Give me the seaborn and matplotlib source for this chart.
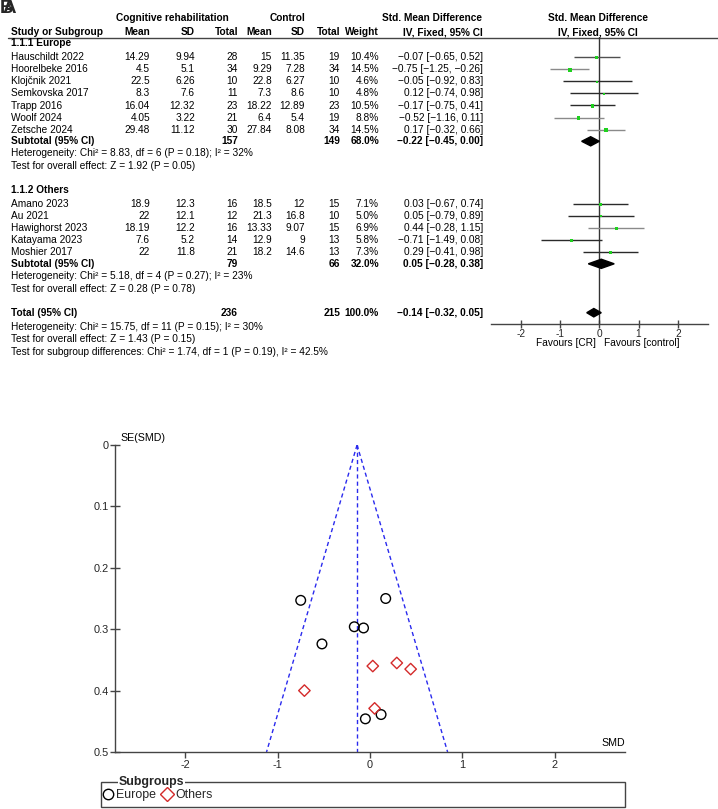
import matplotlib
matplotlib.use("Agg")
import matplotlib.pyplot as plt
from matplotlib.lines import Line2D
from matplotlib.patches import Rectangle
import numpy as np
import pandas as pd
import seaborn as sns

# ---------------------------------------------------------------------------
# DADOS
# ---------------------------------------------------------------------------
eu_study   = ["Hauschildt 2022", "Hoorelbeke 2016", "Klojčnik 2021", "Semkovska 2017",
              "Trapp 2016", "Woolf 2024", "Zetsche 2024"]
eu_cr_mean = [14.29, 4.5, 22.5, 8.3, 16.04, 4.05, 29.48]
eu_cr_sd   = [9.94, 5.1, 6.26, 7.6, 12.32, 3.22, 11.12]
eu_cr_n    = [28, 34, 10, 11, 23, 21, 30]
eu_ct_mean = [15, 9.29, 22.8, 7.3, 18.22, 6.4, 27.84]
eu_ct_sd   = [11.35, 7.28, 6.27, 8.6, 12.89, 5.4, 8.08]
eu_ct_n    = [19, 34, 10, 10, 23, 19, 34]
eu_weight  = [10.4, 14.5, 4.6, 4.8, 10.5, 8.8, 14.5]
eu_smd     = [-0.07, -0.75, -0.05, 0.12, -0.17, -0.52, 0.17]
eu_lo      = [-0.65, -1.25, -0.92, -0.74, -0.75, -1.16, -0.32]
eu_hi      = [0.52, -0.26, 0.83, 0.98, 0.41, 0.11, 0.66]
eu_se      = [0.298, 0.253, 0.446, 0.439, 0.296, 0.324, 0.250]

ot_study   = ["Amano 2023", "Au 2021", "Hawighorst 2023", "Katayama 2023", "Moshier 2017"]
ot_cr_mean = [18.9, 22, 18.19, 7.6, 22]
ot_cr_sd   = [12.3, 12.1, 12.2, 5.2, 11.8]
ot_cr_n    = [16, 12, 16, 14, 21]
ot_ct_mean = [18.5, 21.3, 13.33, 12.9, 18.2]
ot_ct_sd   = [12, 16.8, 9.07, 9, 14.6]
ot_ct_n    = [15, 10, 15, 13, 13]
ot_weight  = [7.1, 5.0, 6.9, 5.8, 7.3]
ot_smd     = [0.03, 0.05, 0.44, -0.71, 0.29]
ot_lo      = [-0.67, -0.79, -0.28, -1.49, -0.41]
ot_hi      = [0.74, 0.89, 1.15, 0.08, 0.98]
ot_se      = [0.360, 0.429, 0.365, 0.400, 0.355]

sub_names  = ["1.1.1 Europe", "1.1.2 Others"]
sub_cr_n   = [157, 79]
sub_ct_n   = [149, 66]
sub_weight = [68.0, 32.0]
sub_smd    = [-0.22, 0.05]
sub_lo     = [-0.45, -0.28]
sub_hi     = [0.00, 0.38]
sub_het    = ["Heterogeneity: Chi² = 8.83, df = 6 (P = 0.18); I² = 32%",
              "Heterogeneity: Chi² = 5.18, df = 4 (P = 0.27); I² = 23%"]
sub_test   = ["Test for overall effect: Z = 1.92 (P = 0.05)",
              "Test for overall effect: Z = 0.28 (P = 0.78)"]

tot_cr_n, tot_ct_n, tot_weight = 236, 215, 100.0
tot_smd, tot_lo, tot_hi = -0.14, -0.32, 0.05
tot_notes = ["Heterogeneity: Chi² = 15.75, df = 11 (P = 0.15); I² = 30%",
             "Test for overall effect: Z = 1.43 (P = 0.15)",
             "Test for subgroup differences: Chi² = 1.74, df = 1 (P = 0.19), I² = 42.5%"]

se_max = 0.5
forest_ticks = [-2, -1, 0, 1, 2]
funnel_yticks = [0, 0.1, 0.2, 0.3, 0.4, 0.5]

# ---------------------------------------------------------------------------
# ESTILO
# ---------------------------------------------------------------------------
sns.set_style("ticks")
plt.rcParams["font.family"] = ["Liberation Sans", "DejaVu Sans"]
plt.rcParams["axes.unicode_minus"] = False
FS = 7.3
GREEN = "#1fd01f"
RED = "#d42a2a"
BLUE = "#2a2aee"
AX_C = "#444444"
ci_grey = {"Hauschildt 2022": "#505050", "Hoorelbeke 2016": "#8a8a8a", "Woolf 2024": "#8a8a8a",
           "Zetsche 2024": "#8a8a8a", "Hawighorst 2023": "#8a8a8a"}

W, H = 718, 809
fig = plt.figure(figsize=(W / 100, H / 100), dpi=100)
fig.patch.set_facecolor("white")

# eixo de fundo em pixels, só para textos
ax_t = fig.add_axes([0, 0, 1, 1])
ax_t.set_xlim(0, W)
ax_t.set_ylim(H, 0)
ax_t.axis("off")


def put(x, y, s, ha="left", bold=False, size=FS):
    ax_t.text(x, y, s, ha=ha, va="center", fontsize=size,
              fontweight="bold" if bold else "normal", color="black")


def m2(v):
    return f"{v:.2f}".replace("-", "\u2212")


def ci_txt(e, lo, hi):
    return f"{m2(e)} [{m2(lo)}, {m2(hi)}]"


COL = {"cr_mean": 150, "cr_sd": 195, "cr_n": 238, "ct_mean": 272,
       "ct_sd": 305, "ct_n": 340, "w": 379, "ci": 483}

# painel A / B (sobrepostos como no original)
ax_t.text(-0.5, 8, "B", fontsize=13.5, fontweight="bold", va="center", ha="left")
ax_t.text(3, 8, "A", fontsize=13.5, fontweight="bold", va="center", ha="left")

# cabeçalho
put(172, 18, "Cognitive rehabilitation", ha="center", bold=True)
put(287, 18, "Control", ha="center", bold=True)
put(482, 18, "Std. Mean Difference", ha="right", bold=True)
put(598, 18, "Std. Mean Difference", ha="center", bold=True)
put(11, 32, "Study or Subgroup", bold=True)
for key, lab in [("cr_mean", "Mean"), ("cr_sd", "SD"), ("cr_n", "Total"),
                 ("ct_mean", "Mean"), ("ct_sd", "SD"), ("ct_n", "Total"), ("w", "Weight")]:
    put(COL[key], 32, lab, ha="right", bold=True)
put(483, 32, "IV, Fixed, 95% CI", ha="right", bold=True)
put(598, 32, "IV, Fixed, 95% CI", ha="center", bold=True)
ax_t.plot([8, W], [37.5, 37.5], color=AX_C, lw=1)

# eixo da floresta (y em pixels, x em SMD)
F_TOP, F_BOT = 37.5, 324.5
ax_f = fig.add_axes([491 / W, 1 - F_BOT / H, (708 - 491) / W, (F_BOT - F_TOP) / H])
ax_f.set_xlim(-2.76, 2.77)
ax_f.set_ylim(F_BOT, F_TOP)
ax_f.patch.set_alpha(0)
ax_f.axvline(0, color="#333333", lw=1, zorder=1)

groups = [
    (eu_study, eu_cr_mean, eu_cr_sd, eu_cr_n, eu_ct_mean, eu_ct_sd, eu_ct_n,
     eu_weight, eu_smd, eu_lo, eu_hi),
    (ot_study, ot_cr_mean, ot_cr_sd, ot_cr_n, ot_ct_mean, ot_ct_sd, ot_ct_n,
     ot_weight, ot_smd, ot_lo, ot_hi),
]
group_top = [43.3, 190.0]   # posição do título de cada subgrupo
ROW = 12.1
all_w = eu_weight + ot_weight

for g, (st, cm, cs, cn, tm, ts, tn, w, e, lo, hi) in enumerate(groups):
    y0 = group_top[g]
    put(11, y0, sub_names[g], bold=True)
    ys = [y0 + 13.8 + ROW * i for i in range(len(st))]
    for i, y in enumerate(ys):
        put(11, y, st[i])
        put(COL["cr_mean"], y, f"{cm[i]:g}", ha="right")
        put(COL["cr_sd"], y, f"{cs[i]:g}", ha="right")
        put(COL["cr_n"], y, f"{cn[i]}", ha="right")
        put(COL["ct_mean"], y, f"{tm[i]:g}", ha="right")
        put(COL["ct_sd"], y, f"{ts[i]:g}", ha="right")
        put(COL["ct_n"], y, f"{tn[i]}", ha="right")
        put(COL["w"], y, f"{w[i]:.1f}%", ha="right")
        put(COL["ci"], y, ci_txt(e[i], lo[i], hi[i]), ha="right")
        ax_f.plot([lo[i], hi[i]], [y, y], color=ci_grey.get(st[i], "#2a2a2a"),
                  lw=1.0, solid_capstyle="butt", zorder=2)
    df_sq = pd.DataFrame({"smd": e, "y": [y + 0.4 for y in ys], "w": w})
    sns.scatterplot(data=df_sq, x="smd", y="y", size="w", sizes=(2.2, 9.0),
                    size_norm=(min(all_w), max(all_w)), marker="s", color=GREEN,
                    edgecolor="none", legend=False, ax=ax_f, zorder=3)
    ys_sub = ys[-1] + 11.6
    put(11, ys_sub, "Subtotal (95% CI)", bold=True)
    put(COL["cr_n"], ys_sub, f"{sub_cr_n[g]}", ha="right", bold=True)
    put(COL["ct_n"], ys_sub, f"{sub_ct_n[g]}", ha="right", bold=True)
    put(COL["w"], ys_sub, f"{sub_weight[g]:.1f}%", ha="right", bold=True)
    put(COL["ci"], ys_sub, ci_txt(sub_smd[g], sub_lo[g], sub_hi[g]), ha="right", bold=True)
    hd = 4.6
    ax_f.fill([sub_lo[g], sub_smd[g], sub_hi[g], sub_smd[g]],
              [ys_sub, ys_sub - hd, ys_sub, ys_sub + hd], color="black", zorder=4)
    put(11, ys_sub + 12.2, sub_het[g])
    put(11, ys_sub + 25.0, sub_test[g])

# total
y_tot = 312.7
put(11, y_tot, "Total (95% CI)", bold=True)
put(COL["cr_n"], y_tot, f"{tot_cr_n}", ha="right", bold=True)
put(COL["ct_n"], y_tot, f"{tot_ct_n}", ha="right", bold=True)
put(COL["w"], y_tot, f"{tot_weight:.1f}%", ha="right", bold=True)
put(COL["ci"], y_tot, ci_txt(tot_smd, tot_lo, tot_hi), ha="right", bold=True)
ax_f.fill([tot_lo, tot_smd, tot_hi, tot_smd],
          [y_tot, y_tot - 4.2, y_tot, y_tot + 4.2], color="black", zorder=4)
for k, note in enumerate(tot_notes):
    put(11, 326.6 + 12.8 * k, note)
put(596, 343.3, "Favours [CR]", ha="right")
put(604, 343.3, "Favours [control]", ha="left")

# acabamento do eixo da floresta (depois do seaborn, que mexe nos rótulos)
ax_f.set_xlim(-2.76, 2.77)
ax_f.set_ylim(F_BOT, F_TOP)
ax_f.set_xlabel("")
ax_f.set_ylabel("")
for s in ["top", "left", "right"]:
    ax_f.spines[s].set_visible(False)
ax_f.spines["bottom"].set_color(AX_C)
ax_f.spines["bottom"].set_linewidth(1)
ax_f.set_yticks([])
ax_f.set_xticks(forest_ticks)
ax_f.set_xticklabels([str(t) for t in forest_ticks])
ax_f.tick_params(axis="x", direction="inout", length=6, width=1, color=AX_C,
                 labelsize=FS, pad=0)

# ---------------------------------------------------------------------------
# FUNNEL PLOT
# ---------------------------------------------------------------------------
L, R, T, B = 115, 625, 445, 752
ax_u = fig.add_axes([L / W, 1 - B / H, (R - L) / W, (B - T) / H])
ax_u.patch.set_alpha(0)

# limites do funil (IC 95% em torno da estimativa combinada)
se_line = np.array([0, se_max])
dash = (0, (3, 2.2))
ax_u.plot(tot_smd - 1.96 * se_line, se_line, color=BLUE, lw=1, ls=dash, zorder=1)
ax_u.plot(tot_smd + 1.96 * se_line, se_line, color=BLUE, lw=1, ls=dash, zorder=1)
ax_u.plot([tot_smd, tot_smd], se_line, color=BLUE, lw=1, ls=dash, zorder=1)

sns.scatterplot(x=eu_smd, y=eu_se, marker="o", s=48, color="black",
                facecolor="none", edgecolor="black", linewidth=1.0, ax=ax_u, zorder=3)
sns.scatterplot(x=ot_smd, y=ot_se, marker="D", s=34, color=RED,
                facecolor="none", edgecolor=RED, linewidth=1.0, ax=ax_u, zorder=3)
for coll in ax_u.collections:
    coll.set_facecolor("none")

ax_u.set_xlim(-2.76, 2.76)
ax_u.set_ylim(se_max, 0)
ax_u.set_xlabel("")
ax_u.set_ylabel("")
for s in ["top", "right"]:
    ax_u.spines[s].set_visible(False)
for s in ["left", "bottom"]:
    ax_u.spines[s].set_color(AX_C)
    ax_u.spines[s].set_linewidth(1)
ax_u.set_xticks(forest_ticks)
ax_u.set_xticklabels([str(t) for t in forest_ticks])
ax_u.set_yticks(funnel_yticks)
ax_u.set_yticklabels([f"{t:g}" for t in funnel_yticks])
ax_u.tick_params(axis="y", direction="inout", length=7, width=1, color=AX_C,
                 labelsize=FS + 0.6, pad=1)
ax_u.tick_params(axis="x", direction="out", length=4, width=1, color=AX_C,
                 labelsize=FS + 0.6, pad=2)

put(120, 437.5, "SE(SMD)", size=FS + 0.4)
put(625, 743, "SMD", ha="right", size=FS + 0.4)

# legenda tipo "fieldset"
ax_t.add_patch(Rectangle((101, 782), 524, 25, fill=False, edgecolor=AX_C, lw=1))
ax_t.text(119, 782, "Subgroups", fontsize=FS + 1.6, fontweight="bold", va="center",
          ha="left", bbox=dict(facecolor="white", edgecolor="none", pad=0.6))
handles = [Line2D([], [], marker="o", ls="none", mfc="none", mec="black", ms=7.5, mew=1),
           Line2D([], [], marker="D", ls="none", mfc="none", mec=RED, ms=7, mew=1)]
fig.legend(handles, ["Europe", "Others"], loc="center left",
           bbox_to_anchor=(102 / W, 1 - 795 / H), ncol=2, frameon=False,
           fontsize=FS + 1.6, handletextpad=0.15, columnspacing=0.4,
           handlelength=1.0, borderpad=0, borderaxespad=0)

fig.savefig("out.png", dpi=100, facecolor="white")
